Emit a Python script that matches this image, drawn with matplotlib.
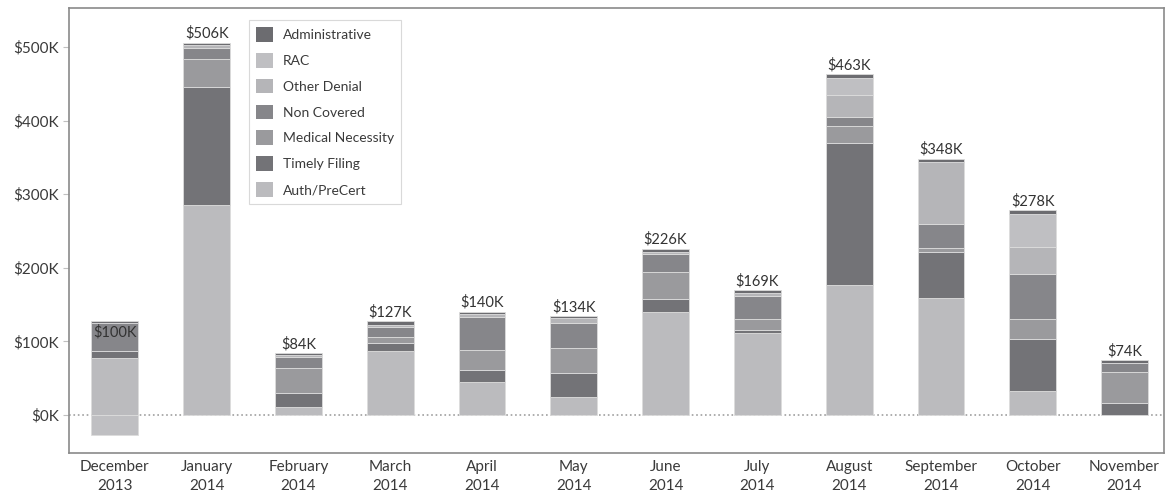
import matplotlib
matplotlib.use('Agg')
import matplotlib.pyplot as plt
import numpy as np

months = ['December\n2013', 'January\n2014', 'February\n2014', 'March\n2014', 'April\n2014',
          'May\n2014', 'June\n2014', 'July\n2014', 'August\n2014', 'September\n2014',
          'October\n2014', 'November\n2014']

# values in $K, stacked from the bottom up
auth_precert = [77, 285, 11, 87, 45, 24, 140, 111, 176, 159, 32, 0]
timely_filing = [10, 161, 19, 11, 16, 33, 17, 4, 193, 63, 71, 16]
medical_necessity = [0, 38, 34, 8, 27, 34, 37, 15, 23, 5, 27, 42]
non_covered = [38, 15, 15, 14, 45, 34, 24, 31, 13, 32, 62, 12]
other_denial = [0, 4, 3, 2, 4, 6, 4, 4, 30, 84, 36, 0]
rac = [-27, 0, 0, 0, 0, 0, 0, 0, 23, 0, 45, 0]
administrative = [2, 3, 2, 5, 3, 3, 4, 4, 5, 5, 5, 4]
totals = [100, 506, 84, 127, 140, 134, 226, 169, 463, 348, 278, 74]

series = [
    ('Auth/PreCert', auth_precert, '#bbbbbe'),
    ('Timely Filing', timely_filing, '#737377'),
    ('Medical Necessity', medical_necessity, '#9a9a9d'),
    ('Non Covered', non_covered, '#86868a'),
    ('Other Denial', other_denial, '#b5b5b8'),
    ('RAC', rac, '#bfbfc2'),
    ('Administrative', administrative, '#6c6c70'),
]

plt.rcParams['font.family'] = ['Lato', 'DejaVu Sans']

fig = plt.figure(figsize=(11.69, 4.99), dpi=100)
ax = fig.add_axes([0.059, 0.092, 0.9367, 0.892])

x = np.arange(len(months))
pos_bottom = np.zeros(len(months))
neg_bottom = np.zeros(len(months))
handles = []
for name, vals, col in series:
    v = np.array(vals, dtype=float) * 1000
    bottom = np.where(v >= 0, pos_bottom, neg_bottom)
    b = ax.bar(x, v, 0.51, bottom=bottom, color=col, edgecolor='#dcdcdc', linewidth=0.6,
               label=name, zorder=3)
    handles.append(b)
    pos_bottom += np.where(v > 0, v, 0)
    neg_bottom += np.where(v < 0, v, 0)

for i, t in enumerate(totals):
    ax.text(x[i], t * 1000 + 2500, '$%dK' % t, ha='center', va='bottom',
            fontsize=10.5, color='#333333', zorder=5)

ax.axhline(0, color='#a0a0a0', linestyle=':', linewidth=1.2, zorder=2)

ax.set_xlim(-0.5, 11.43)
ax.set_ylim(-52000, 553000)
ax.set_yticks(np.arange(0, 500001, 100000))
ax.set_yticklabels(['$%dK' % (v // 1000) for v in range(0, 500001, 100000)])
ax.set_xticks(x)
ax.set_xticklabels(months, linespacing=1.45)
ax.tick_params(axis='y', length=4, color='#c0c0c0', labelsize=11, labelcolor='#3a3a3a', pad=3)
ax.tick_params(axis='x', length=0, labelsize=11, labelcolor='#3a3a3a', pad=5)
for s in ax.spines.values():
    s.set_color('#8a8a8a')
    s.set_linewidth(1.2)

leg = ax.legend(handles[::-1], [h.get_label() for h in handles[::-1]],
                loc='upper left', bbox_to_anchor=(0.158, 0.988), fontsize=10,
                frameon=True, fancybox=False, edgecolor='#d0d0d0',
                handlelength=1.25, handleheight=1.25, labelspacing=0.8,
                handletextpad=0.7, borderpad=0.5, labelcolor='#3a3a3a')
leg.get_frame().set_linewidth(0.8)
for h in leg.legend_handles:
    h.set_edgecolor('none')

fig.savefig('out.png', dpi=100)
